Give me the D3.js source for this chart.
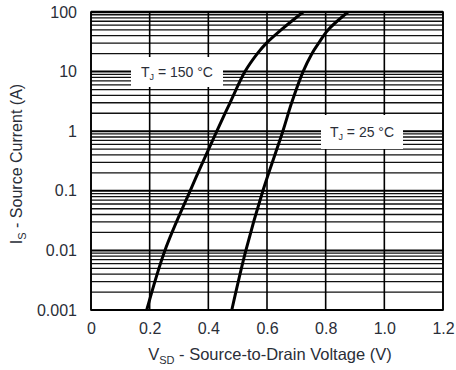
<!DOCTYPE html>
<html><head><meta charset="utf-8">
<script src="https://cdn.jsdelivr.net/npm/d3@7"></script>
<style>
html,body{margin:0;padding:0;background:#fff;}
svg{display:block;font-family:"Liberation Sans",Arial,sans-serif;}
</style></head>
<body>
<svg id="c" width="456" height="370"></svg>
<script>
// Data
const currents = [0.001, 0.01, 0.1, 1, 3, 10, 20, 30, 50, 100];                     // Is (A)
const v150 = [0.190, 0.252, 0.338, 0.429, 0.474, 0.525, 0.567, 0.598, 0.648, 0.723]; // Vsd at TJ=150°C
const v25  = [0.480, 0.528, 0.586, 0.654, 0.684, 0.723, 0.753, 0.776, 0.808, 0.876]; // Vsd at TJ=25°C
const xTicks = [0, 0.2, 0.4, 0.6, 0.8, 1.0, 1.2];
const xTickLabels = ["0", "0.2", "0.4", "0.6", "0.8", "1.0", "1.2"];
const yTicks = [0.001, 0.01, 0.1, 1, 10, 100];
const yTickLabels = ["0.001", "0.01", "0.1", "1", "10", "100"];

const svg = d3.select("#c");
const L = 91, R = 443, T = 12, B = 310;
const x = d3.scaleLinear().domain([0, 1.2]).range([L, R]);
const y = d3.scaleLog().domain([0.001, 100]).range([B, T]);
const txt = "#2a2e38";
const FF = "Liberation Sans, Arial, sans-serif";

// minor horizontal grid
const minor = [];
for (let e = -3; e < 2; e++) for (let m = 2; m <= 9; m++) minor.push(m * Math.pow(10, e));
svg.append("g").selectAll("line").data(minor).join("line")
  .attr("x1", L).attr("x2", R).attr("y1", d => y(d)).attr("y2", d => y(d))
  .attr("stroke", "#111").attr("stroke-width", 1.3);
// major horizontal grid
svg.append("g").selectAll("line").data(yTicks).join("line")
  .attr("x1", L).attr("x2", R).attr("y1", d => y(d)).attr("y2", d => y(d))
  .attr("stroke", "#000").attr("stroke-width", 2);
// vertical grid
svg.append("g").selectAll("line").data(xTicks).join("line")
  .attr("x1", d => x(d)).attr("x2", d => x(d)).attr("y1", T).attr("y2", B)
  .attr("stroke", "#000").attr("stroke-width", 1.6);
// frame
svg.append("rect").attr("x", L).attr("y", T).attr("width", R - L).attr("height", B - T)
  .attr("fill", "none").attr("stroke", "#000").attr("stroke-width", 1.6);
svg.append("line").attr("x1", L).attr("x2", R).attr("y1", T).attr("y2", T)
  .attr("stroke", "#000").attr("stroke-width", 2.4);

// curves
const line = d3.line().x(d => x(d[0])).y(d => y(d[1])).curve(d3.curveCatmullRom.alpha(0.5));
[v150, v25].forEach(vs => {
  svg.append("path").datum(vs.map((v, i) => [v, currents[i]]))
    .attr("d", line).attr("fill", "none").attr("stroke", "#000").attr("stroke-width", 3);
});

// labels with white boxes
function label(cx, cy, w, h, temp) {
  svg.append("rect").attr("x", cx - w / 2).attr("y", cy - h / 2).attr("width", w).attr("height", h).attr("fill", "#fff");
  const t = svg.append("text").attr("x", cx).attr("y", cy + 5).attr("text-anchor", "middle")
    .attr("font-size", 14).attr("fill", txt);
  t.append("tspan").text("T");
  t.append("tspan").attr("font-size", 9).attr("dy", 3).text("J");
  t.append("tspan").attr("dy", -3).text(" = " + temp + " °C");
}
label(177, 72, 92, 30, "150");
label(362, 132, 82, 34, "25");

// axes (labels only)
const xa = svg.append("g").attr("transform", `translate(0,${B})`)
  .call(d3.axisBottom(x).tickValues(xTicks).tickSize(0).tickPadding(13)
    .tickFormat((d, i) => xTickLabels[i]));
xa.select(".domain").remove();
xa.selectAll("text").attr("font-size", 16).attr("fill", txt).attr("font-family", FF);

const ya = svg.append("g").attr("transform", `translate(77,0)`)
  .call(d3.axisLeft(y).tickValues(yTicks).tickSize(0).tickPadding(0)
    .tickFormat((d, i) => yTickLabels[i]));
ya.select(".domain").remove();
ya.selectAll("text").attr("font-size", 16).attr("fill", txt).attr("font-family", FF);

// axis titles
const xt = svg.append("text").attr("x", 270).attr("y", 360).attr("text-anchor", "middle")
  .attr("font-size", 16.5).attr("fill", txt);
xt.append("tspan").text("V");
xt.append("tspan").attr("font-size", 11).attr("dy", 4).text("SD");
xt.append("tspan").attr("dy", -4).text(" - Source-to-Drain Voltage (V)");

const yt = svg.append("text").attr("transform", "translate(22,164) rotate(-90)").attr("text-anchor", "middle")
  .attr("font-size", 16).attr("fill", txt);
yt.append("tspan").text("I");
yt.append("tspan").attr("font-size", 11).attr("dy", 4).text("S");
yt.append("tspan").attr("dy", -4).text(" - Source Current (A)");
</script>
</body></html>
